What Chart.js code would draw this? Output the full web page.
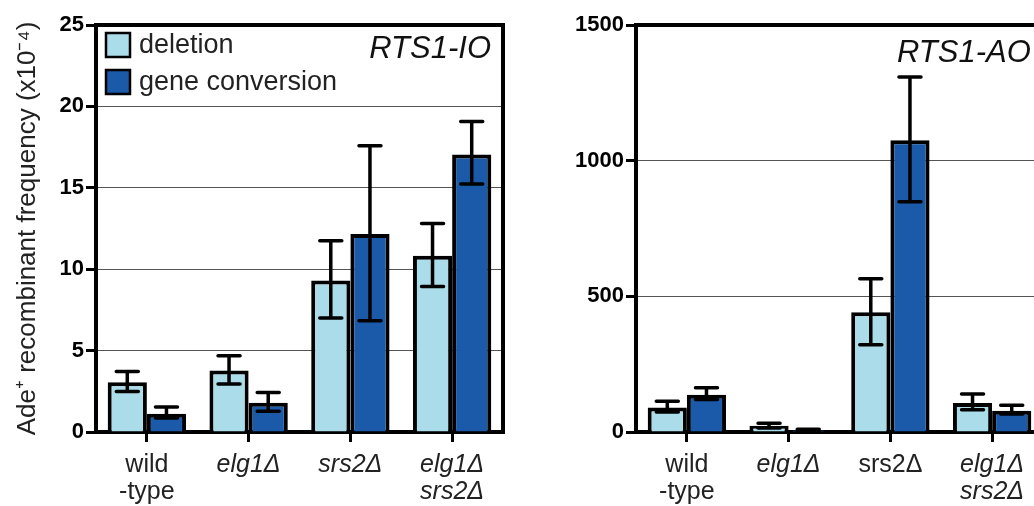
<!DOCTYPE html>
<html>
<head>
<meta charset="utf-8">
<script src="https://cdn.jsdelivr.net/npm/chart.js@4/dist/chart.umd.min.js"></script>
<style>
  html, body { margin: 0; padding: 0; background: #fff; overflow: hidden; }
  body { width: 1034px; height: 506px; position: relative; }
  .panel { position: absolute; top: 0; width: 540px; height: 506px; }
  #left-panel { left: 0; }
  #right-panel { left: 540px; }
</style>
</head>
<body>
<div class="panel" id="left-panel"><canvas id="chart-io"></canvas></div>
<div class="panel" id="right-panel"><canvas id="chart-ao"></canvas></div>
<script>
// =====================
// Data
// =====================
const strains = [['wild', '-type'], 'elg1\u0394', 'srs2\u0394', ['elg1\u0394', 'srs2\u0394']];
const seriesNames = ['deletion', 'gene conversion'];

// RTS1-IO (x10^-4)
const ioDeletion = [3.05, 3.77, 9.31, 10.83];
const ioDeletionLow = [2.49, 2.95, 7.0, 8.94];
const ioDeletionHigh = [3.72, 4.69, 11.75, 12.81];
const ioConversion = [1.12, 1.80, 12.16, 17.05];
const ioConversionLow = [0.86, 1.27, 6.84, 15.23];
const ioConversionHigh = [1.54, 2.43, 17.59, 19.08];
const ioTicks = [0, 5, 10, 15, 20, 25];

// RTS1-AO
const aoDeletion = [90, 23, 441, 107];
const aoDeletionLow = [74, 15, 322, 82];
const aoDeletionHigh = [113, 32, 565, 140];
const aoConversion = [137, 7, 1075, 78];
const aoConversionLow = [120, 4, 849, 66];
const aoConversionHigh = [163, 10, 1308, 99];
const aoTicks = [0, 500, 1000, 1500];

const FONT = "'Liberation Sans', Arial, Helvetica, sans-serif";
const LIGHT = '#abdcea';
const DARK = '#1a5aa8';


// Draws the error bars from the low/high arrays stored on each dataset
const errorBarPlugin = {
    id: 'errorBars',
    afterDatasetsDraw(chart) {
        const ctx = chart.ctx;
        const yScale = chart.scales.y;
        ctx.save();
        ctx.strokeStyle = '#000';
        ctx.lineWidth = 3.5;
        ctx.lineCap = 'round';
        chart.data.datasets.forEach((ds, di) => {
            const meta = chart.getDatasetMeta(di);
            meta.data.forEach((bar, i) => {
                const yLo = yScale.getPixelForValue(ds.errLow[i]);
                const yHi = yScale.getPixelForValue(ds.errHigh[i]);
                const x = bar.x;
                ctx.beginPath();
                ctx.moveTo(x, yLo); ctx.lineTo(x, yHi);
                ctx.moveTo(x - 11, yLo); ctx.lineTo(x + 11, yLo);
                ctx.moveTo(x - 11, yHi); ctx.lineTo(x + 11, yHi);
                ctx.stroke();
            });
        });
        ctx.restore();
    }
};

// Top and right edges of the plot frame, plus the in-plot label and legend
const framePlugin = {
    id: 'frame',
    afterDraw(chart, args, opts) {
        const ctx = chart.ctx;
        const a = chart.chartArea;
        ctx.save();
        ctx.strokeStyle = '#000';
        ctx.lineWidth = 4;
        ctx.beginPath();
        ctx.moveTo(a.left - 2, a.top);
        ctx.lineTo(a.right, a.top);
        ctx.lineTo(a.right, a.bottom + 2);
        ctx.stroke();

        // panel label (e.g. RTS1-IO)
        ctx.fillStyle = '#111';
        ctx.font = 'italic 31px ' + FONT;
        ctx.textAlign = opts.labelAlign;
        ctx.textBaseline = 'alphabetic';
        ctx.fillText(opts.label, opts.labelX, opts.labelY);

        // legend inside the plot
        if (opts.legend) {
            ctx.font = '27px ' + FONT;
            ctx.textAlign = 'left';
            ctx.textBaseline = 'middle';
            chart.data.datasets.forEach((ds, i) => {
                const bx = a.left + 10;
                const by = a.top + 8 + i * 37;
                ctx.fillStyle = ds.backgroundColor;
                ctx.fillRect(bx, by, 24, 24);
                ctx.lineWidth = 2.5;
                ctx.strokeStyle = '#000';
                ctx.strokeRect(bx, by, 24, 24);
                ctx.fillStyle = '#222';
                ctx.fillText(ds.label, bx + 33, by + 13);
            });
        }
        ctx.restore();
    }
};


function makeChart(canvasId, dels, delLo, delHi, convs, convLo, convHi, ticks, opts) {
    const ctx = document.getElementById(canvasId).getContext('2d');
    const yMax = ticks[ticks.length - 1];
    return new Chart(ctx, {
        type: 'bar',
        data: {
            labels: strains,
            datasets: [
                {
                    label: seriesNames[0],
                    data: dels,
                    errLow: delLo,
                    errHigh: delHi,
                    backgroundColor: LIGHT,
                    borderColor: '#000',
                    borderWidth: 4
                },
                {
                    label: seriesNames[1],
                    data: convs,
                    errLow: convLo,
                    errHigh: convHi,
                    backgroundColor: DARK,
                    borderColor: '#000',
                    borderWidth: 4
                }
            ]
        },
        options: {
            responsive: true,
            maintainAspectRatio: false,
            animation: false,
            layout: { padding: { top: 25, right: 37, left: 0, bottom: 0 } },
            datasets: { bar: { categoryPercentage: 0.77, barPercentage: 1.0 } },
            plugins: {
                legend: { display: false },
                tooltip: { enabled: false },
                frame: opts
            },
            scales: {
                x: {
                    offset: true,
                    grid: {
                        offset: false,
                        drawOnChartArea: false,
                        drawTicks: true,
                        tickLength: 10,
                        tickColor: '#000',
                        tickWidth: 3
                    },
                    border: { color: '#000', width: 4 },
                    ticks: {
                        color: '#222',
                        padding: 9,
                        maxRotation: 0,
                        autoSkip: false,
                        font: (c) => ({
                            family: FONT,
                            size: 25,
                            lineHeight: 1.1,
                            style: opts.italic[c.index] ? 'italic' : 'normal'
                        })
                    },
                    afterFit: (scale) => { scale.height = 74; }
                },
                y: {
                    min: 0,
                    max: yMax,
                    afterBuildTicks: (scale) => {
                        scale.ticks = ticks.map(v => ({ value: v }));
                    },
                    grid: {
                        color: '#555',
                        lineWidth: 1,
                        tickLength: 10,
                        tickColor: '#000',
                        tickWidth: 3
                    },
                    border: { color: '#000', width: 4 },
                    ticks: {
                        color: '#000',
                        padding: 2,
                        font: { family: FONT, size: 22, weight: 'bold' },
                        callback: (v) => String(v)
                    },
                    title: {
                        display: !!opts.yTitle,
                        text: opts.yTitle || '',
                        color: '#222',
                        font: { family: FONT, size: 26 },
                        padding: { top: 12, bottom: 0 }
                    },
                    afterFit: (scale) => { scale.width = 96; }
                }
            }
        },
        plugins: [errorBarPlugin, framePlugin]
    });
}

makeChart('chart-io', ioDeletion, ioDeletionLow, ioDeletionHigh,
    ioConversion, ioConversionLow, ioConversionHigh, ioTicks, {
        label: 'RTS1-IO', labelAlign: 'right', labelX: 491, labelY: 58,
        legend: true,
        italic: [false, true, true, true],
        yTitle: 'Ade\u207A recombinant frequency (x10\u207B\u2074)'
    });

makeChart('chart-ao', aoDeletion, aoDeletionLow, aoDeletionHigh,
    aoConversion, aoConversionLow, aoConversionHigh, aoTicks, {
        label: 'RTS1-AO', labelAlign: 'left', labelX: 357, labelY: 62,
        legend: false,
        italic: [false, true, false, true],
        yTitle: null
    });
</script>
</body>
</html>
